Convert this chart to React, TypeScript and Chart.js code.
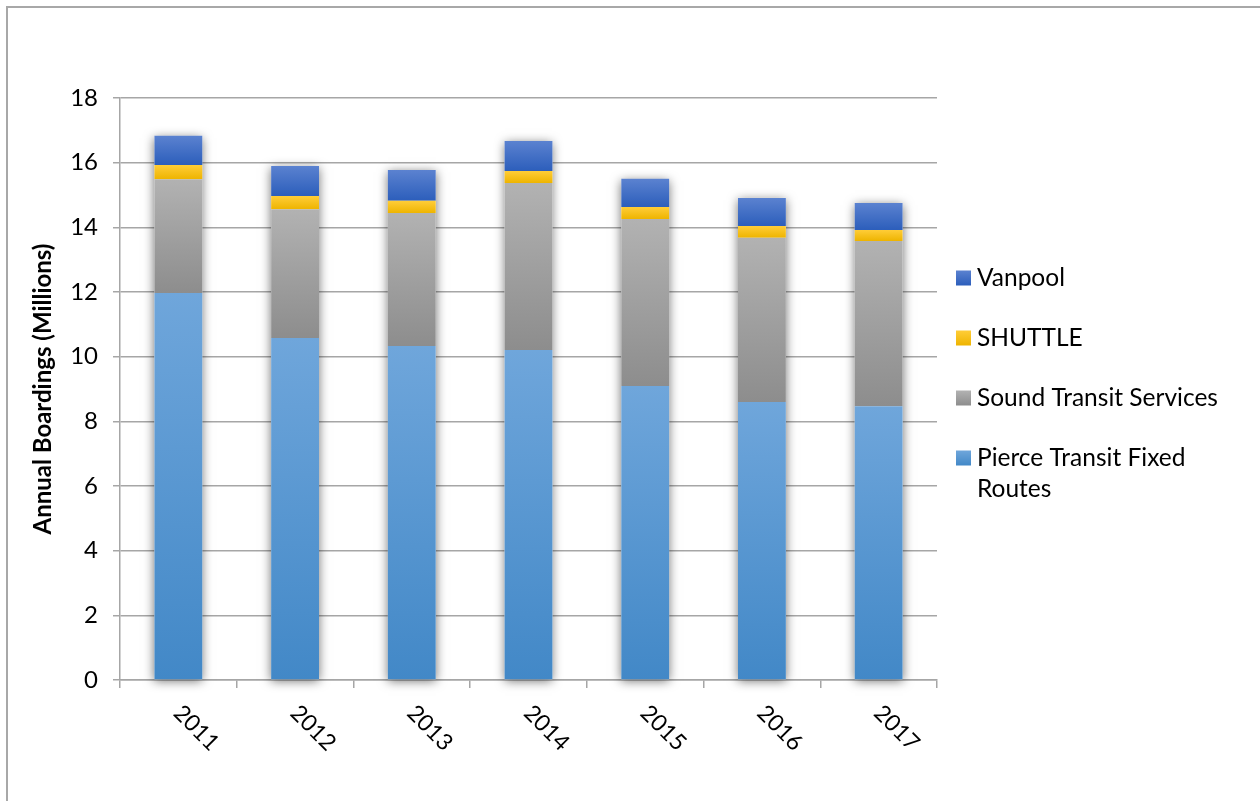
import React, { useEffect, useRef } from "react";
import { Chart, registerables } from "chart.js";

Chart.register(...registerables);

const years = ["2011", "2012", "2013", "2014", "2015", "2016", "2017"];
const pierceFixed = [11.97, 10.58, 10.33, 10.21, 9.09, 8.6, 8.47];
const soundTransit = [3.52, 3.98, 4.11, 5.16, 5.17, 5.08, 5.11];
const shuttle = [0.44, 0.41, 0.38, 0.37, 0.37, 0.36, 0.34];
const vanpool = [0.9, 0.93, 0.95, 0.93, 0.87, 0.87, 0.83];
const seriesNames = ["Pierce Transit Fixed Routes", "Sound Transit Services", "SHUTTLE", "Vanpool"];
const yTicks = [0, 2, 4, 6, 8, 10, 12, 14, 16, 18];
const yTitle = "Annual Boardings (Millions)";

const seriesValues = [pierceFixed, soundTransit, shuttle, vanpool];
const seriesGradients: [string, string][] = [
  ["#6fa6db", "#4288c7"],
  ["#b2b2b2", "#8d8d8d"],
  ["#ffcd38", "#eeb400"],
  ["#5b82d0", "#2c5ebb"],
];

const FONT = "Lato, 'Open Sans', sans-serif";

export default function App() {
  const ref = useRef<HTMLCanvasElement | null>(null);

  useEffect(() => {
    document.body.style.margin = "0";
    const canvas = ref.current;
    if (!canvas) return;

    const makeBg = (dsIndex: number) => (ctx: any) => {
      const chart = ctx.chart;
      const [c1, c2] = seriesGradients[dsIndex];
      const y = chart.scales && chart.scales.y;
      if (!y || !chart.chartArea || ctx.type !== "data") return c1;
      const idx = ctx.dataIndex;
      let base = 0;
      for (let i = 0; i < dsIndex; i++) base += seriesValues[i][idx];
      const top = base + seriesValues[dsIndex][idx];
      const y0 = y.getPixelForValue(top);
      const y1 = y.getPixelForValue(base);
      if (!isFinite(y0) || !isFinite(y1) || y0 === y1) return c1;
      const g = chart.ctx.createLinearGradient(0, y0, 0, y1);
      g.addColorStop(0, c1);
      g.addColorStop(1, c2);
      return g;
    };

    const shadowPlugin = {
      id: "stackShadow",
      beforeDatasetsDraw(chart: any) {
        const c = chart.ctx;
        const first = chart.getDatasetMeta(0).data;
        const last = chart.getDatasetMeta(chart.data.datasets.length - 1).data;
        c.save();
        c.shadowColor = "rgba(0,0,0,0.55)";
        c.shadowBlur = 10;
        c.shadowOffsetX = 0;
        c.shadowOffsetY = 2;
        c.fillStyle = "#ffffff";
        for (let i = 0; i < first.length; i++) {
          const b = first[i] as any;
          const t = last[i] as any;
          const w = b.width;
          c.fillRect(b.x - w / 2, t.y, w, b.base - t.y);
        }
        c.restore();
      },
    };

    const decorPlugin = {
      id: "decor",
      afterDraw(chart: any) {
        const c = chart.ctx;
        const area = chart.chartArea;
        const xs = chart.scales.x;
        // outer frame (top and left)
        c.save();
        c.strokeStyle = "#a8a8a8";
        c.lineWidth = 2;
        c.beginPath();
        c.moveTo(7, 801);
        c.lineTo(7, 7);
        c.lineTo(1260, 7);
        c.stroke();

        // x labels rotated clockwise
        c.fillStyle = "#000";
        c.font = `23px ${FONT}`;
        c.textAlign = "center";
        c.textBaseline = "middle";
        years.forEach((lab, i) => {
          const x = xs.getPixelForTick(i);
          c.save();
          c.translate(x + 18, area.bottom + 48);
          c.rotate(Math.PI / 4);
          c.fillText(lab, 0, 0);
          c.restore();
        });

        // legend
        c.font = `24.5px ${FONT}`;
        c.textAlign = "left";
        c.textBaseline = "middle";
        const lx = area.right + 19;
        const tx = area.right + 40;
        const maxW = 1250 - tx;
        let cy = area.top + 180;
        const order = [3, 2, 1, 0];
        order.forEach((dsIdx) => {
          const [c1, c2] = seriesGradients[dsIdx];
          const g = c.createLinearGradient(0, cy - 7.5, 0, cy + 7.5);
          g.addColorStop(0, c1);
          g.addColorStop(1, c2);
          c.fillStyle = g;
          c.fillRect(lx, cy - 7.5, 15, 15);
          c.fillStyle = "#000";
          const words = seriesNames[dsIdx].split(" ");
          const lines: string[] = [];
          let cur = "";
          words.forEach((w) => {
            const test = cur ? cur + " " + w : w;
            if (c.measureText(test).width > maxW && cur) {
              lines.push(cur);
              cur = w;
            } else cur = test;
          });
          if (cur) lines.push(cur);
          lines.forEach((ln, k) => c.fillText(ln, tx, cy + k * 31));
          cy += 60;
        });
        c.restore();
      },
    };

    const chart = new Chart(canvas, {
      type: "bar",
      data: {
        labels: years,
        datasets: seriesValues.map((vals, i) => ({
          label: seriesNames[i],
          data: vals,
          backgroundColor: makeBg(i),
          borderWidth: 0,
          categoryPercentage: 1,
          barPercentage: 0.41,
        })),
      },
      options: {
        animation: false,
        responsive: false,
        devicePixelRatio: 1,
        layout: { padding: { top: 98, right: 323, bottom: 0, left: 0 } },
        plugins: {
          legend: { display: false },
          tooltip: { enabled: false },
          title: { display: false },
        },
        scales: {
          x: {
            stacked: true,
            offset: true,
            afterFit: (s: any) => {
              s.height = 121;
            },
            grid: {
              display: true,
              offset: true,
              drawOnChartArea: false,
              drawTicks: true,
              tickLength: 8,
              color: "#a6a6a6",
              lineWidth: 1.5,
            },
            border: { display: true, color: "#a6a6a6", width: 1.5 },
            ticks: { display: false },
          },
          y: {
            stacked: true,
            min: 0,
            max: 18,
            afterFit: (s: any) => {
              s.width = 120;
            },
            afterBuildTicks: (s: any) => {
              s.ticks = yTicks.map((v) => ({ value: v }));
            },
            grid: {
              color: "#a6a6a6",
              lineWidth: 1.5,
              drawTicks: true,
              tickLength: 7,
            },
            border: { display: true, color: "#a6a6a6", width: 1.5 },
            ticks: {
              color: "#000",
              font: { family: FONT, size: 24 },
              padding: 15,
            },
            title: {
              display: true,
              text: yTitle,
              color: "#000",
              font: { family: FONT, size: 24, weight: "bold" },
              padding: { top: 29, bottom: 0 },
            },
          },
        },
      },
      plugins: [shadowPlugin, decorPlugin],
    });

    return () => chart.destroy();
  }, []);

  return (
    <div style={{ width: 1260, height: 801 }}>
      <canvas ref={ref} width={1260} height={801} style={{ display: "block", width: 1260, height: 801 }} />
    </div>
  );
}
